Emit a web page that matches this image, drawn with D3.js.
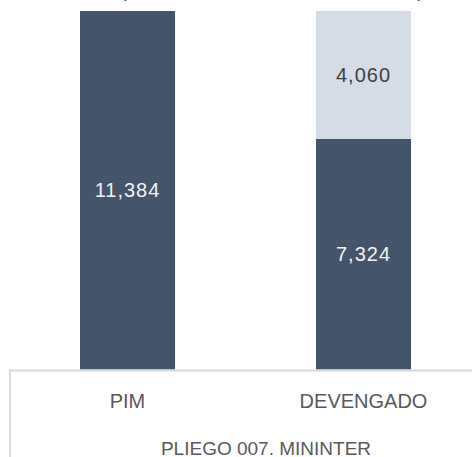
<!DOCTYPE html>
<html>
<head>
<meta charset="utf-8">
<script src="https://cdn.jsdelivr.net/npm/d3@7"></script>
<style>
  body { margin: 0; background: #fff; }
  svg { display: block; font-family: "Liberation Sans", Arial, sans-serif; }
</style>
</head>
<body>
<div id="chart"></div>
<script>
// data
const categories = ["PIM", "DEVENGADO"];
const executed = [11384, 7324];   // dark part
const pending = [0, 4060];        // light part (saldo)
const groupLabel = "PLIEGO 007. MININTER";
const titleText = "(EN MILLONES DE SOLES)";

const width = 472, height = 457;

const rows = categories.map((c, i) => ({cat: c, executed: executed[i], pending: pending[i]}));
const stack = d3.stack().keys(["executed", "pending"])(rows);

// scales
const xScale = d3.scaleBand()
  .domain(categories)
  .range([9.5, 481.5])
  .paddingInner(0.5975)
  .paddingOuter(0.29875);

const yScale = d3.scaleLinear()
  .domain([0, d3.max(rows, d => d.executed + d.pending)])
  .range([369.5, 11]);

const colors = {executed: "#44546a", pending: "#d6dce5"};
const labelColors = {executed: "#f2f2f2", pending: "#404040"};

const svg = d3.select("#chart")
  .append("svg")
    .attr("width", width)
    .attr("height", height)
    .attr("viewBox", [0, 0, width, height]);

// title, mostly cut off above the picture (as in the original)
svg.append("text")
  .text(titleText)
  .attr("x", 272)
  .attr("y", -3.5)
  .attr("text-anchor", "middle")
  .attr("textLength", 304)
  .attr("lengthAdjust", "spacing")
  .attr("fill", "#595959")
  .style("font-size", "20px");

// bars
stack.forEach(layer => {
  const segs = layer.filter(d => d[1] - d[0] > 0);
  svg.append("g")
    .selectAll("rect")
    .data(segs)
    .join("rect")
      .attr("x", d => xScale(d.data.cat))
      .attr("width", xScale.bandwidth())
      .attr("y", d => yScale(d[1]))
      .attr("height", d => yScale(d[0]) - yScale(d[1]))
      .attr("fill", colors[layer.key]);

  // value labels
  svg.append("g")
    .selectAll("text")
    .data(segs)
    .join("text")
      .text(d => d3.format(",")(d[1] - d[0]))
      .attr("x", d => xScale(d.data.cat) + xScale.bandwidth() / 2)
      .attr("y", d => (yScale(d[0]) + yScale(d[1])) / 2)
      .attr("dy", "0.35em")
      .attr("text-anchor", "middle")
      .attr("fill", labelColors[layer.key])
      .style("font-size", "20px")
      .style("letter-spacing", "1px");
});

// category axis (multi-level box)
const axis = svg.append("g").attr("class", "axis-x");
axis.append("line")
  .attr("x1", 9).attr("x2", width)
  .attr("y1", 370.5).attr("y2", 370.5)
  .attr("stroke", "#d9d9d9")
  .attr("stroke-width", 2);
axis.append("line")
  .attr("x1", 10).attr("x2", 10)
  .attr("y1", 369.5).attr("y2", height)
  .attr("stroke", "#d9d9d9")
  .attr("stroke-width", 2);

axis.selectAll(".cat-label")
  .data(categories)
  .join("text")
    .attr("class", "cat-label")
    .text(d => d)
    .attr("x", d => xScale(d) + xScale.bandwidth() / 2)
    .attr("y", 408)
    .attr("text-anchor", "middle")
    .attr("fill", "#595959")
    .style("font-size", "20px");

axis.append("text")
  .text(groupLabel)
  .attr("x", 266)
  .attr("y", 455)
  .attr("text-anchor", "middle")
  .attr("fill", "#595959")
  .style("font-size", "19px");
</script>
</body>
</html>
